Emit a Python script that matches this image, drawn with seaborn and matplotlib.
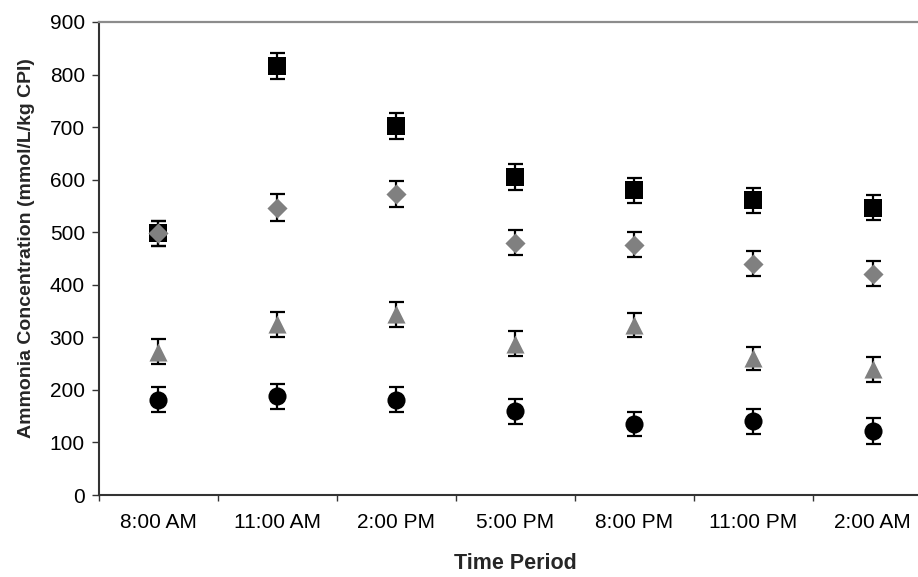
import matplotlib
matplotlib.use("Agg")
import matplotlib.pyplot as plt
import seaborn as sns
import pandas as pd
import numpy as np

times = ["8:00 AM", "11:00 AM", "2:00 PM", "5:00 PM", "8:00 PM", "11:00 PM", "2:00 AM"]
square_vals = [498, 816, 702, 605, 580, 561, 547]
square_err = [24, 25, 24, 24, 24, 24, 24]
diamond_vals = [498, 547, 573, 480, 476, 440, 421]
diamond_err = [24, 25, 25, 24, 24, 24, 24]
triangle_vals = [273, 325, 344, 288, 323, 260, 239]
triangle_err = [24, 24, 24, 24, 23, 22, 24]
circle_vals = [181, 188, 181, 159, 135, 140, 122]
circle_err = [24, 24, 24, 24, 22, 24, 24]
y_ticks = [0, 100, 200, 300, 400, 500, 600, 700, 800, 900]

series = [
    ("square", square_vals, square_err, "s", "black", 170),
    ("diamond", diamond_vals, diamond_err, "D", "#808080", 105),
    ("triangle", triangle_vals, triangle_err, "^", "#808080", 170),
    ("circle", circle_vals, circle_err, "o", "black", 170),
]

sns.set_style("white")
plt.rcParams["font.family"] = ["Liberation Sans", "DejaVu Sans"]

fig = plt.figure(figsize=(9.18, 5.77), dpi=100)
ax = fig.add_axes([0.1075, 0.1421, 0.9078, 0.8198])

for i, (name, vals, errs, mk, col, sz) in enumerate(series):
    df = pd.DataFrame({"Time": times, "Value": vals})
    ax.errorbar(df["Time"], df["Value"], yerr=errs, fmt="none", ecolor="black",
                elinewidth=1.6, capsize=5.4, capthick=1.6, zorder=2 + 2 * i)
    sns.scatterplot(data=df, x="Time", y="Value", marker=mk, color=col, s=sz,
                    linewidth=0, edgecolor=col, ax=ax, zorder=3 + 2 * i, legend=False)

ax.set_xlim(-0.5, len(times) - 0.5)
ax.set_ylim(0, 900)
ax.set_yticks(y_ticks)
ax.set_yticklabels([str(v) for v in y_ticks], fontsize=15, color="black")

# category separators as ticks, labels at centers
ax.set_xticks(np.arange(len(times) + 1) - 0.5)
ax.set_xticklabels([])
ax.set_xticks(np.arange(len(times)), minor=True)
ax.set_xticklabels(times, minor=True, fontsize=15, color="black")
ax.tick_params(axis="x", which="minor", length=0, pad=13)
ax.tick_params(axis="x", which="major", direction="out", length=4.5, width=1, color="#333333", bottom=True)
ax.tick_params(axis="y", direction="out", length=5, width=1, color="#333333", left=True, pad=5)

for side in ["left", "bottom"]:
    ax.spines[side].set_color("#333333")
    ax.spines[side].set_linewidth(1.5)
ax.spines["top"].set_color("#8c8c8c")
ax.spines["top"].set_linewidth(1.6)
ax.spines["right"].set_visible(False)

ax.set_xlabel("Time Period", fontsize=15.5, fontweight="bold", labelpad=15)
ax.set_ylabel("Ammonia Concentration (mmol/L/kg CPI)", fontsize=14, fontweight="bold")
ax.yaxis.set_label_coords(-0.076, 0.522)
ax.grid(False)

fig.savefig("out.png", dpi=100)
